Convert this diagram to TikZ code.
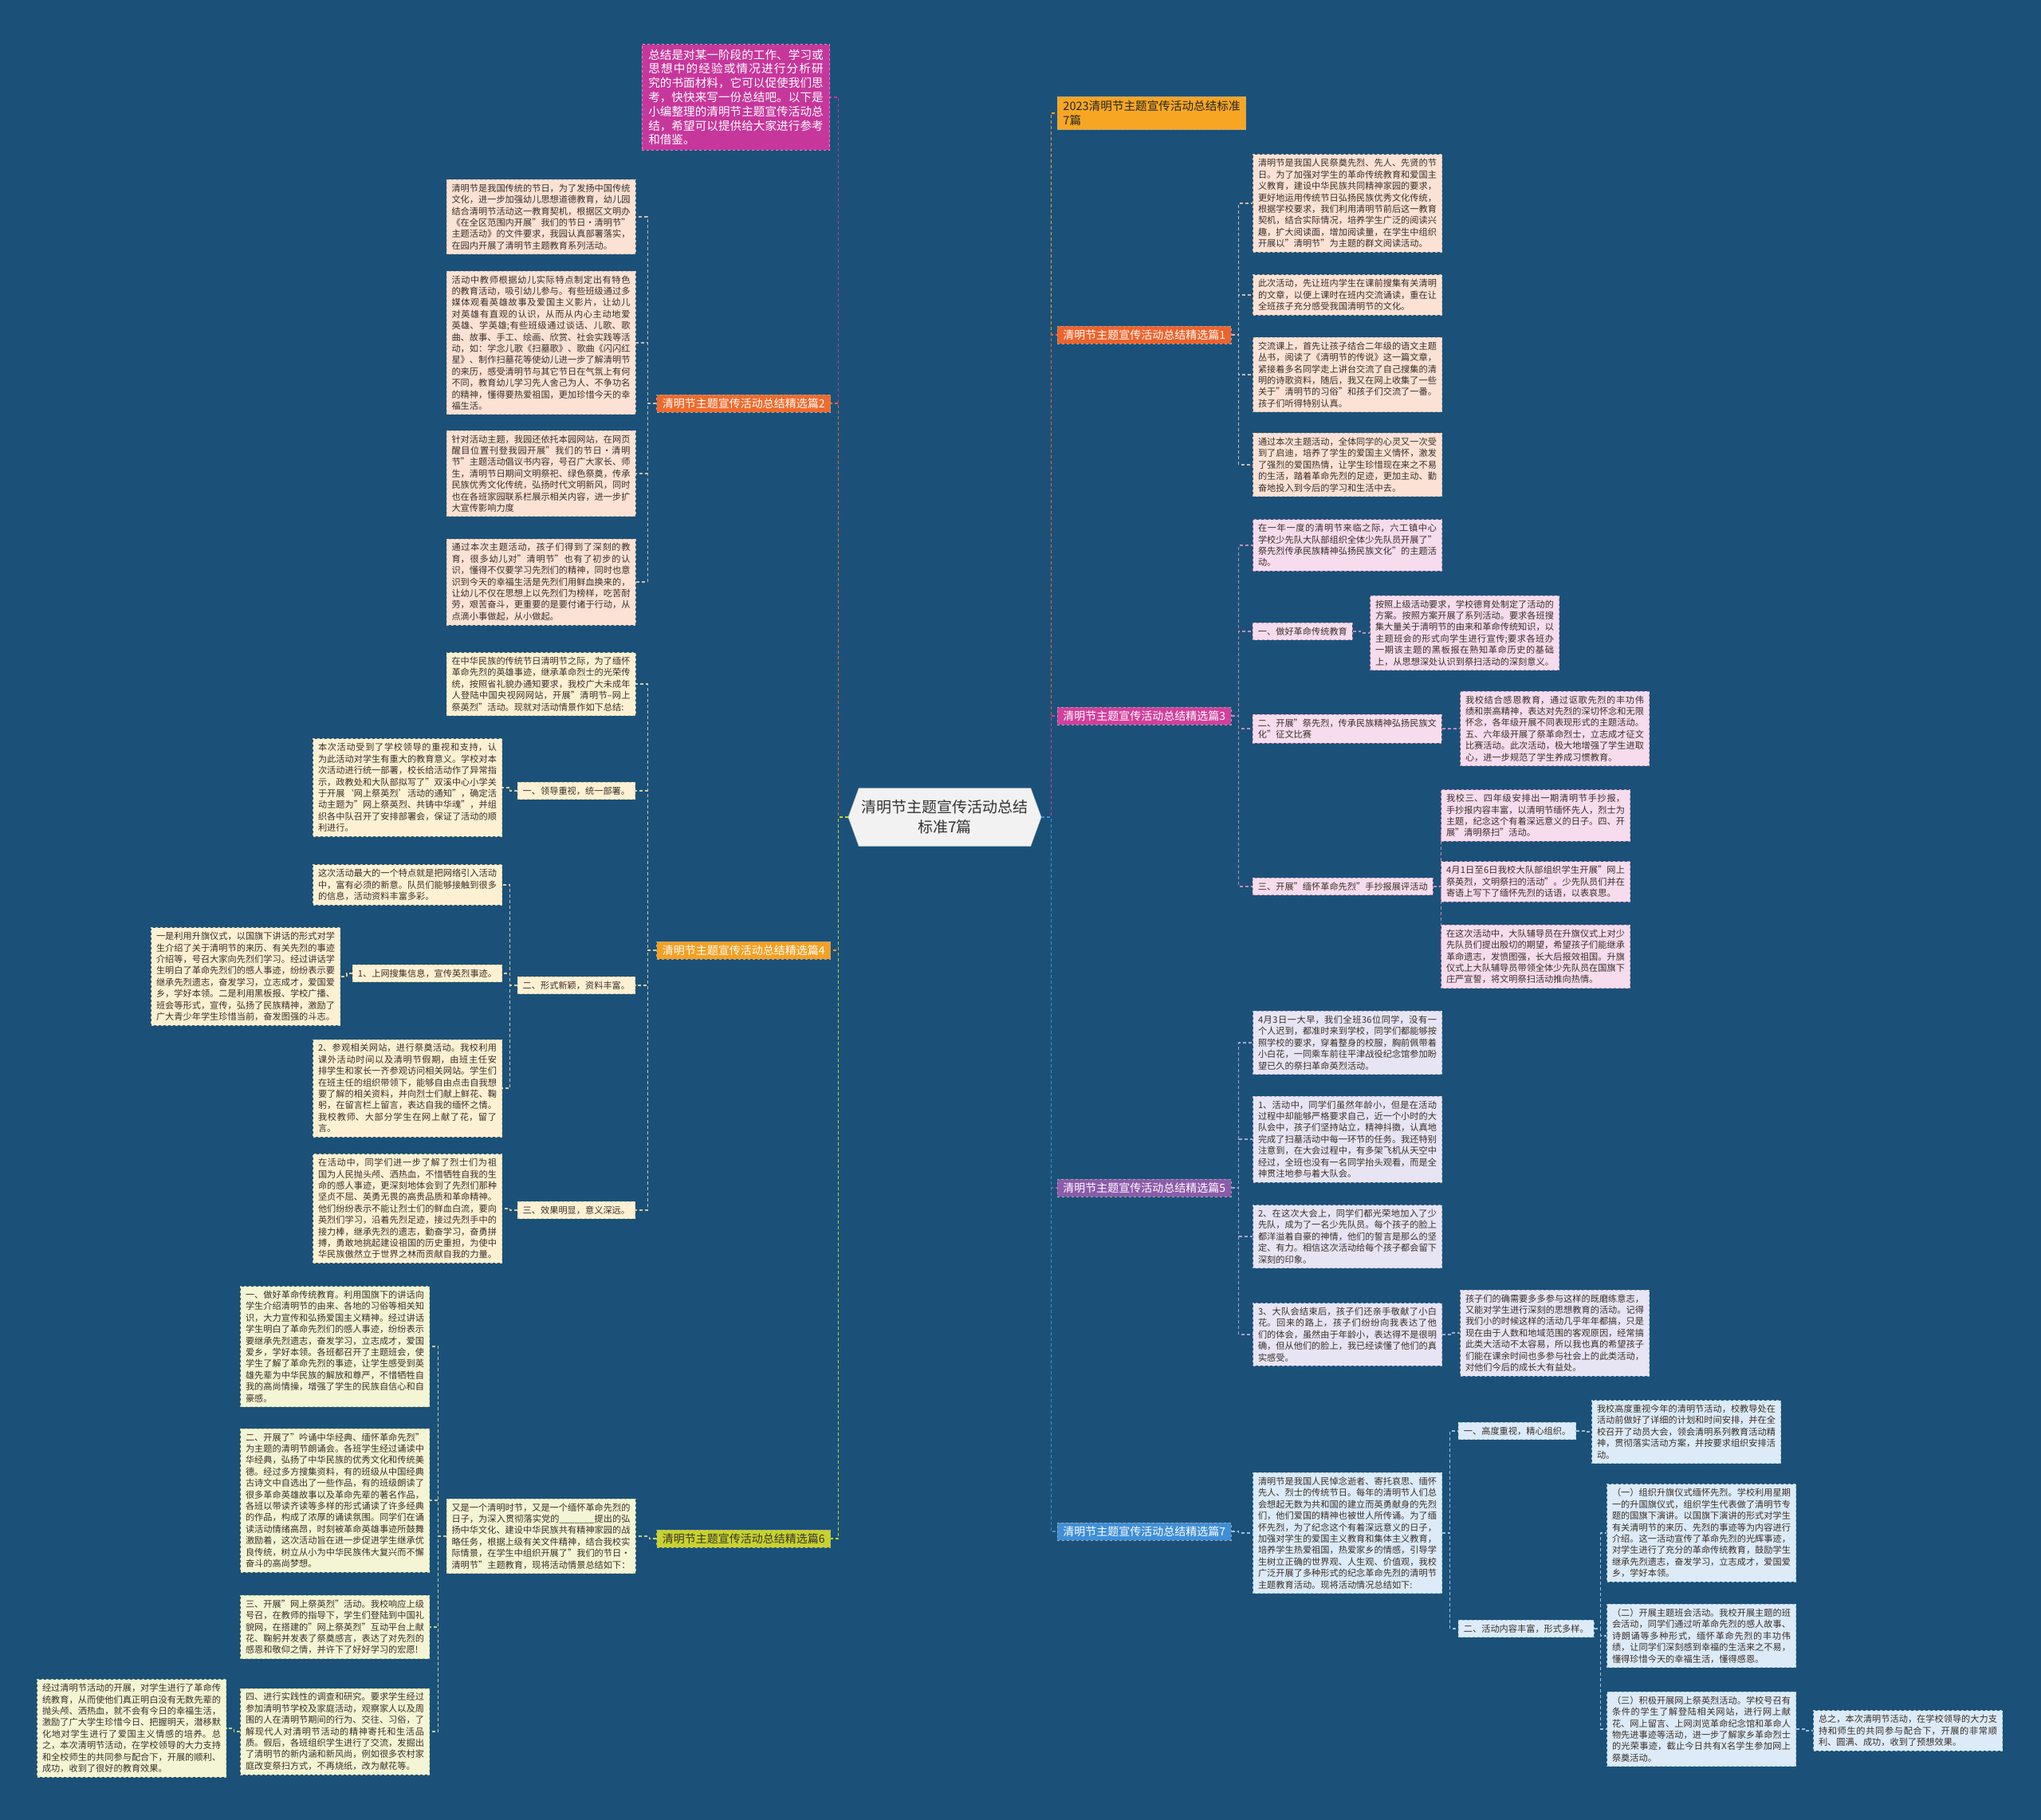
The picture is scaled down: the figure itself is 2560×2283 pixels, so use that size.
\documentclass[tikz,border=0pt]{standalone}
\usepackage{fontspec}
\setmainfont{Noto Sans CJK SC}
\XeTeXlinebreaklocale "zh"
\XeTeXlinebreakskip=0pt plus 1pt
\usetikzlibrary{shapes.symbols}
\setlength{\parindent}{0pt}
\definecolor{bgblue}{HTML}{1B5179}
\definecolor{cintro}{HTML}{C7379B}
\definecolor{ctitle}{HTML}{F6A623}
\definecolor{cbone}{HTML}{F0622A}
\definecolor{cbtwo}{HTML}{F06A2C}
\definecolor{cbthree}{HTML}{D23F9C}
\definecolor{cbfour}{HTML}{F4A023}
\definecolor{cbfive}{HTML}{8C5BAA}
\definecolor{cbsix}{HTML}{C9D22C}
\definecolor{cbseven}{HTML}{3F8ED6}
\definecolor{fpeach}{HTML}{FBE2D4}
\definecolor{lpeach}{HTML}{D7B9A8}
\definecolor{fcream}{HTML}{FEF1D3}
\definecolor{lcream}{HTML}{DCCB9F}
\definecolor{flime}{HTML}{F4F5D4}
\definecolor{llime}{HTML}{C7CC8F}
\definecolor{fpink}{HTML}{F6DCEC}
\definecolor{lpink}{HTML}{C58BB4}
\definecolor{flilac}{HTML}{E7E5F3}
\definecolor{llilac}{HTML}{ABA6CF}
\definecolor{fsky}{HTML}{DCEBF7}
\definecolor{lsky}{HTML}{9DC2E2}
\definecolor{cardtext}{HTML}{3A2E2A}
\newcommand\cardfont{\fontsize{11.2pt}{14.4pt}\selectfont}
\tikzset{
 card/.style={font=\cardfont,text width=224pt,align=justify,inner xsep=6.5pt,inner ysep=5.5pt,
   dashed,line width=0.8pt,text=cardtext},
 subbox/.style={font=\cardfont,align=left,inner xsep=6.5pt,inner ysep=5.5pt,
   dashed,line width=0.8pt,text=cardtext},
 peachcard/.style={card,fill=fpeach,draw=lpeach},
 creamcard/.style={card,fill=fcream,draw=lcream},
 limecard/.style={card,fill=flime,draw=llime},
 pinkcard/.style={card,fill=fpink,draw=lpink},
 lilaccard/.style={card,fill=flilac,draw=llilac},
 skycard/.style={card,fill=fsky,draw=lsky},
 branchbox/.style={font=\fontsize{14pt}{18pt}\selectfont,align=left,inner xsep=7pt,inner ysep=4.5pt,
   dashed,line width=0.8pt,text=white,draw=black!35},
 link/.style={dashed,dash pattern=on 4pt off 3pt,line width=1.4pt},
 twig/.style={dashed,dash pattern=on 4pt off 3pt,line width=1.1pt}
}

\begin{document}
\begin{tikzpicture}[x=1pt,y=-1pt]
 \fill[bgblue] (0,0) rectangle (2560,2283);
 \useasboundingbox (0,0) rectangle (2560,2283);
 % centre
 \node[shape=signal,signal to=west and east,signal pointer angle=140,fill=white!95!black,draw=black!30,
   minimum width=241pt,minimum height=73pt,align=center,text=black!80,
   font=\fontsize{19pt}{25pt}\selectfont] (hub) at (1185,1025) {清明节主题宣传活动总结\\标准7篇};
 % left side
 \node[fill=cintro,draw=cintro!60!white,dashed,line width=0.8pt,text=white,text width=219.5pt,align=justify,
   inner xsep=8pt,inner ysep=6pt,font=\fontsize{14.6pt}{17.8pt}\selectfont] (intro) at (923,122)
   {总结是对某一阶段的工作、学习或思想中的经验或情况进行分析研究的书面材料，它可以促使我们思考，快快来写一份总结吧。以下是小编整理的清明节主题宣传活动总结，希望可以提供给大家进行参考和借鉴。};
 \node[branchbox,fill=cbtwo,anchor=east] (b2) at (1042,506) {清明节主题宣传活动总结精选篇2};
 \node[peachcard] (p2a) at (678.5,272) {清明节是我国传统的节日，为了发扬中国传统文化，进一步加强幼儿思想道德教育，幼儿园结合清明节活动这一教育契机，根据区文明办《在全区范围内开展"我们的节日·清明节"主题活动》的文件要求，我园认真部署落实，在园内开展了清明节主题教育系列活动。};
 \node[peachcard] (p2b) at (678.5,430) {活动中教师根据幼儿实际特点制定出有特色的教育活动，吸引幼儿参与。有些班级通过多媒体观看英雄故事及爱国主义影片，让幼儿对英雄有直观的认识，从而从内心主动地爱英雄、学英雄;有些班级通过谈话、儿歌、歌曲、故事、手工、绘画、欣赏、社会实践等活动，如：学念儿歌《扫墓歌》、歌曲《闪闪红星》、制作扫墓花等使幼儿进一步了解清明节的来历，感受清明节与其它节日在气氛上有何不同，教育幼儿学习先人舍己为人、不争功名的精神，懂得要热爱祖国，更加珍惜今天的幸福生活。};
 \node[peachcard] (p2c) at (678.5,594) {针对活动主题，我园还依托本园网站，在网页醒目位置刊登我园开展"我们的节日·清明节"主题活动倡议书内容，号召广大家长、师生，清明节日期间文明祭祀、绿色祭奠，传承民族优秀文化传统，弘扬时代文明新风，同时也在各班家园联系栏展示相关内容，进一步扩大宣传影响力度};
 \node[peachcard] (p2d) at (678.5,730) {通过本次主题活动，孩子们得到了深刻的教育，很多幼儿对"清明节"也有了初步的认识，懂得不仅要学习先烈们的精神，同时也意识到今天的幸福生活是先烈们用鲜血换来的，让幼儿不仅在思想上以先烈们为榜样，吃苦耐劳，艰苦奋斗，更重要的是要付诸于行动，从点滴小事做起，从小做起。};
 \node[branchbox,fill=cbfour,anchor=east] (b4) at (1042,1192) {清明节主题宣传活动总结精选篇4};
 \node[creamcard] (p4i) at (678.5,858) {在中华民族的传统节日清明节之际，为了缅怀革命先烈的英雄事迹，继承革命烈士的光荣传统，按照省礼貌办通知要求，我校广大未成年人登陆中国央视网网站，开展"清明节–网上祭英烈"活动。现就对活动情景作如下总结:};
 \node[subbox,fill=fcream,draw=lcream,anchor=east] (l41) at (797,992) {一、领导重视，统一部署。};
 \node[creamcard] (p41) at (511,988) {本次活动受到了学校领导的重视和支持，认为此活动对学生有重大的教育意义。学校对本次活动进行统一部署，校长给活动作了异常指示，政教处和大队部拟写了"双溪中心小学关于开展‘网上祭英烈’活动的通知"，确定活动主题为"网上祭英烈、共铸中华魂"，并组织各中队召开了安排部署会，保证了活动的顺利进行。};
 \node[subbox,fill=fcream,draw=lcream,anchor=east] (l42) at (797,1236) {二、形式新颖，资料丰富。};
 \node[creamcard] (p42a) at (511,1110) {这次活动最大的一个特点就是把网络引入活动中，富有必须的新意。队员们能够接触到很多的信息，活动资料丰富多彩。};
 \node[subbox,fill=fcream,draw=lcream,anchor=east] (l421) at (630,1221) {1、上网搜集信息，宣传英烈事迹。};
 \node[creamcard] (p421) at (308,1225) {一是利用升旗仪式，以国旗下讲话的形式对学生介绍了关于清明节的来历、有关先烈的事迹介绍等，号召大家向先烈们学习。经过讲话学生明白了革命先烈们的感人事迹，纷纷表示要继承先烈遗志，奋发学习，立志成才，爱国爱乡，学好本领。二是利用黑板报、学校广播、班会等形式，宣传，弘扬了民族精神，激励了广大青少年学生珍惜当前，奋发图强的斗志。};
 \node[creamcard] (p422) at (511,1365) {2、参观相关网站，进行祭奠活动。我校利用课外活动时间以及清明节假期，由班主任安排学生和家长一齐参观访问相关网站。学生们在班主任的组织带领下，能够自由点击自我想要了解的相关资料，并向烈士们献上鲜花、鞠躬，在留言栏上留言，表达自我的缅怀之情。我校教师、大部分学生在网上献了花，留了言。};
 \node[subbox,fill=fcream,draw=lcream,anchor=east] (l43) at (797,1518) {三、效果明显，意义深远。};
 \node[creamcard] (p43) at (511,1516) {在活动中，同学们进一步了解了烈士们为祖国为人民抛头颅、洒热血，不惜牺牲自我的生命的感人事迹，更深刻地体会到了先烈们那种坚贞不屈、英勇无畏的高贵品质和革命精神。他们纷纷表示不能让烈士们的鲜血白流，要向英烈们学习，沿着先烈足迹，接过先烈手中的接力棒，继承先烈的遗志，勤奋学习，奋勇拼搏，勇敢地挑起建设祖国的历史重担，为使中华民族傲然立于世界之林而贡献自我的力量。};
 \node[branchbox,fill=cbsix,text=black!80,anchor=east] (b6) at (1042,1930) {清明节主题宣传活动总结精选篇6};
 \node[limecard] (p6i) at (678.5,1927) {又是一个清明时节，又是一个缅怀革命先烈的日子，为深入贯彻落实党的\_\_\_\_\_\_\_提出的弘扬中华文化、建设中华民族共有精神家园的战略任务，根据上级有关文件精神，结合我校实际情景，在学生中组织开展了"我们的节日·清明节"主题教育，现将活动情景总结如下：};
 \node[limecard] (p61) at (420,1689) {一、做好革命传统教育。利用国旗下的讲话向学生介绍清明节的由来、各地的习俗等相关知识，大力宣传和弘扬爱国主义精神。经过讲话学生明白了革命先烈们的感人事迹，纷纷表示要继承先烈遗志，奋发学习，立志成才，爱国爱乡，学好本领。各班都召开了主题班会，使学生了解了革命先烈的事迹，让学生感受到英雄先辈为中华民族的解放和尊严，不惜牺牲自我的高尚情操，增强了学生的民族自信心和自豪感。};
 \node[limecard] (p62) at (420,1882) {二、开展了"吟诵中华经典、缅怀革命先烈"为主题的清明节朗诵会。各班学生经过诵读中华经典，弘扬了中华民族的优秀文化和传统美德。经过多方搜集资料，有的班级从中国经典古诗文中自选出了一些作品，有的班级朗读了很多革命英雄故事以及革命先辈的著名作品，各班以带读齐读等多样的形式诵读了许多经典的作品，构成了浓厚的诵读氛围。同学们在诵读活动情绪高昂，时刻被革命英雄事迹所鼓舞激励着，这次活动旨在进一步促进学生继承优良传统，树立从小为中华民族伟大复兴而不懈奋斗的高尚梦想。};
 \node[limecard] (p63) at (420,2041) {三、开展"网上祭英烈"活动。我校响应上级号召，在教师的指导下，学生们登陆到中国礼貌网，在搭建的"网上祭英烈"互动平台上献花、鞠躬并发表了祭奠感言，表达了对先烈的感恩和敬仰之情，并许下了好好学习的宏愿!};
 \node[limecard] (p64) at (420,2172) {四、进行实践性的调查和研究。要求学生经过参加清明节学校及家庭活动，观察家人以及周围的人在清明节期间的行为、交往、习俗，了解现代人对清明节活动的精神寄托和生活品质。假后，各班组织学生进行了交流，发掘出了清明节的新内涵和新风尚，例如很多农村家庭改变祭扫方式，不再烧纸，改为献花等。};
 \node[limecard] (p6z) at (165,2168) {经过清明节活动的开展，对学生进行了革命传统教育，从而使他们真正明白没有无数先辈的抛头颅、洒热血，就不会有今日的幸福生活，激励了广大学生珍惜今日、把握明天，潜移默化地对学生进行了爱国主义情感的培养。总之，本次清明节活动，在学校领导的大力支持和全校师生的共同参与配合下，开展的顺利、成功，收到了很好的教育效果。};
 % right side
 \node[branchbox,fill=ctitle,text=black!85,anchor=west,font=\fontsize{14.6pt}{18.5pt}\selectfont] (title) at (1326,142) {2023清明节主题宣传活动总结标准\\7篇};
 \node[branchbox,fill=cbone,anchor=west] (b1) at (1326,420) {清明节主题宣传活动总结精选篇1};
 \node[peachcard] (q1a) at (1690,255) {清明节是我国人民祭奠先烈、先人、先贤的节日。为了加强对学生的革命传统教育和爱国主义教育，建设中华民族共同精神家园的要求，更好地运用传统节日弘扬民族优秀文化传统，根据学校要求，我们利用清明节前后这一教育契机，结合实际情况，培养学生广泛的阅读兴趣，扩大阅读面，增加阅读量，在学生中组织开展以"清明节"为主题的群文阅读活动。};
 \node[peachcard] (q1b) at (1690,370) {此次活动，先让班内学生在课前搜集有关清明的文章，以便上课时在班内交流诵读，重在让全班孩子充分感受我国清明节的文化。};
 \node[peachcard] (q1c) at (1690,470) {交流课上，首先让孩子结合二年级的语文主题丛书，阅读了《清明节的传说》这一篇文章，紧接着多名同学走上讲台交流了自己搜集的清明的诗歌资料，随后，我又在网上收集了一些关于"清明节的习俗"和孩子们交流了一番。孩子们听得特别认真。};
 \node[peachcard] (q1d) at (1690,583) {通过本次主题活动，全体同学的心灵又一次受到了启迪，培养了学生的爱国主义情怀，激发了强烈的爱国热情，让学生珍惜现在来之不易的生活，踏着革命先烈的足迹，更加主动、勤奋地投入到今后的学习和生活中去。};
 \node[branchbox,fill=cbthree,anchor=west] (b3) at (1326,898) {清明节主题宣传活动总结精选篇3};
 \node[pinkcard] (q3i) at (1690,684) {在一年一度的清明节来临之际，六工镇中心学校少先队大队部组织全体少先队员开展了"祭先烈传承民族精神弘扬民族文化"的主题活动。};
 \node[subbox,fill=fpink,draw=lpink,anchor=west] (l31) at (1571,792) {一、做好革命传统教育};
 \node[pinkcard] (q31) at (1837,794) {按照上级活动要求，学校德育处制定了活动的方案。按照方案开展了系列活动。要求各班搜集大量关于清明节的由来和革命传统知识，以主题班会的形式向学生进行宣传;要求各班办一期该主题的黑板报在熟知革命历史的基础上，从思想深处认识到祭扫活动的深刻意义。};
 \node[pinkcard,align=left,anchor=west] (l32) at (1571,914) {二、开展"祭先烈，传承民族精神弘扬民族文化"征文比赛};
 \node[pinkcard] (q32) at (1950,914) {我校结合感恩教育，通过讴歌先烈的丰功伟绩和崇高精神，表达对先烈的深切怀念和无限怀念，各年级开展不同表现形式的主题活动。五、六年级开展了祭革命烈士，立志成才征文比赛活动。此次活动，极大地增强了学生进取心，进一步规范了学生养成习惯教育。};
 \node[subbox,fill=fpink,draw=lpink,anchor=west] (l33) at (1571,1112) {三、开展"缅怀革命先烈"手抄报展评活动};
 \node[pinkcard] (q3a) at (1926,1023) {我校三、四年级安排出一期清明节手抄报，手抄报内容丰富，以清明节缅怀先人，烈士为主题，纪念这个有着深远意义的日子。四、开展"清明祭扫"活动。};
 \node[pinkcard] (q3b) at (1926,1106) {4月1日至6日我校大队部组织学生开展"网上祭英烈，文明祭扫的活动"。少先队员们并在寄语上写下了缅怀先烈的话语，以表哀思。};
 \node[pinkcard] (q3c) at (1926,1200) {在这次活动中，大队辅导员在升旗仪式上对少先队员们提出殷切的期望，希望孩子们能继承革命遗志，发愤图强，长大后报效祖国。升旗仪式上大队辅导员带领全体少先队员在国旗下庄严宣誓，将文明祭扫活动推向热情。};
 \node[branchbox,fill=cbfive,anchor=west] (b5) at (1326,1490) {清明节主题宣传活动总结精选篇5};
 \node[lilaccard] (q5a) at (1690,1308) {4月3日一大早，我们全班36位同学，没有一个人迟到，都准时来到学校，同学们都能够按照学校的要求，穿着整身的校服，胸前佩带着小白花，一同乘车前往平津战役纪念馆参加盼望已久的祭扫革命英烈活动。};
 \node[lilaccard] (q5b) at (1690,1429) {1、活动中，同学们虽然年龄小，但是在活动过程中却能够严格要求自己，近一个小时的大队会中，孩子们坚持站立，精神抖擞，认真地完成了扫墓活动中每一环节的任务。我还特别注意到，在大会过程中，有多架飞机从天空中经过，全班也没有一名同学抬头观看，而是全神贯注地参与着大队会。};
 \node[lilaccard] (q5c) at (1690,1551) {2、在这次大会上，同学们都光荣地加入了少先队，成为了一名少先队员。每个孩子的脸上都洋溢着自豪的神情，他们的誓言是那么的坚定、有力。相信这次活动给每个孩子都会留下深刻的印象。};
 \node[lilaccard] (q5d) at (1690,1674) {3、大队会结束后，孩子们还亲手敬献了小白花。回来的路上，孩子们纷纷向我表达了他们的体会，虽然由于年龄小，表达得不是很明确，但从他们的脸上，我已经读懂了他们的真实感受。};
 \node[lilaccard] (q5e) at (1950,1672) {孩子们的确需要多多参与这样的既磨练意志，又能对学生进行深刻的思想教育的活动。记得我们小的时候这样的活动几乎年年都搞，只是现在由于人数和地域范围的客观原因，经常搞此类大活动不太容易，所以我也真的希望孩子们能在课余时间也多参与社会上的此类活动，对他们今后的成长大有益处。};
 \node[branchbox,fill=cbseven,anchor=west] (b7) at (1326,1921) {清明节主题宣传活动总结精选篇7};
 \node[skycard] (q7i) at (1690,1923) {清明节是我国人民悼念逝者、寄托哀思、缅怀先人、烈士的传统节日。每年的清明节人们总会想起无数为共和国的建立而英勇献身的先烈们，他们爱国的精神也被世人所传诵。为了缅怀先烈，为了纪念这个有着深远意义的日子，加强对学生的爱国主义教育和集体主义教育，培养学生热爱祖国，热爱家乡的情感，引导学生树立正确的世界观、人生观、价值观，我校广泛开展了多种形式的纪念革命先烈的清明节主题教育活动。现将活动情况总结如下:};
 \node[subbox,fill=fsky,draw=lsky,anchor=west] (l71) at (1829,1795) {一、高度重视，精心组织。};
 \node[skycard] (q71) at (2115,1796) {我校高度重视今年的清明节活动，校教导处在活动前做好了详细的计划和时间安排，并在全校召开了动员大会，领会清明系列教育活动精神，贯彻落实活动方案，并按要求组织安排活动。};
 \node[subbox,fill=fsky,draw=lsky,anchor=west] (l72) at (1829,2043) {二、活动内容丰富，形式多样。};
 \node[skycard] (q72a) at (2134,1923) {（一）组织升旗仪式缅怀先烈。学校利用星期一的升国旗仪式，组织学生代表做了清明节专题的国旗下演讲。以国旗下演讲的形式对学生有关清明节的来历、先烈的事迹等为内容进行介绍。这一活动宣传了革命先烈的光辉事迹，对学生进行了充分的革命传统教育，鼓励学生继承先烈遗志，奋发学习，立志成才，爱国爱乡，学好本领。};
 \node[skycard] (q72b) at (2134,2052) {（二）开展主题班会活动。我校开展主题的班会活动，同学们通过听革命先烈的感人故事、诗朗诵等多种形式，缅怀革命先烈的丰功伟绩，让同学们深刻感到幸福的生活来之不易，懂得珍惜今天的幸福生活，懂得感恩。};
 \node[skycard] (q72c) at (2134,2169) {（三）积极开展网上祭英烈活动。学校号召有条件的学生了解登陆相关网站，进行网上献花、网上留言、上网浏览革命纪念馆和革命人物先进事迹等活动，进一步了解家乡革命烈士的光荣事迹，截止今日共有X名学生参加网上祭奠活动。};
 \node[skycard] (q7z) at (2393,2171) {总之，本次清明节活动，在学校领导的大力支持和师生的共同参与配合下，开展的非常顺利、圆满、成功，收到了预想效果。};
 % centre to branches
 \draw[link,cintro] (hub.west) -- ++(-12,0) |- (intro.east);
 \draw[link,cbtwo] (hub.west) -- ++(-12,0) |- (b2.east);
 \draw[link,cbfour] (hub.west) -- ++(-12,0) |- (b4.east);
 \draw[link,cbsix] (hub.west) -- ++(-12,0) |- (b6.east);
 \draw[link,ctitle] (hub.east) -- ++(12,0) |- (title.west);
 \draw[link,cbone] (hub.east) -- ++(12,0) |- (b1.west);
 \draw[link,cbthree] (hub.east) -- ++(12,0) |- (b3.west);
 \draw[link,cbfive] (hub.east) -- ++(12,0) |- (b5.west);
 \draw[link,cbseven] (hub.east) -- ++(12,0) |- (b7.west);
 % branch 2
 \draw[twig,lpeach] (b2.west) -- ++(-11,0) |- (p2a.east);
 \draw[twig,lpeach] (b2.west) -- ++(-11,0) |- (p2b.east);
 \draw[twig,lpeach] (b2.west) -- ++(-11,0) |- (p2c.east);
 \draw[twig,lpeach] (b2.west) -- ++(-11,0) |- (p2d.east);
 % branch 4
 \draw[twig,lcream] (b4.west) -- ++(-11,0) |- (p4i.east);
 \draw[twig,lcream] (b4.west) -- ++(-11,0) |- (l41.east);
 \draw[twig,lcream] (b4.west) -- ++(-11,0) |- (l42.east);
 \draw[twig,lcream] (b4.west) -- ++(-11,0) |- (l43.east);
 \draw[twig,lcream] (l41.west) -- ++(-9,0) |- (p41.east);
 \draw[twig,lcream] (l42.west) -- ++(-9,0) |- (p42a.east);
 \draw[twig,lcream] (l42.west) -- ++(-9,0) |- (l421.east);
 \draw[twig,lcream] (l42.west) -- ++(-9,0) |- (p422.east);
 \draw[twig,lcream] (l421.west) -- ++(-7,0) |- (p421.east);
 \draw[twig,lcream] (l43.west) -- ++(-9,0) |- (p43.east);
 % branch 6
 \draw[twig,llime] (b6.west) -- ++(-9,0) |- (p6i.east);
 \draw[twig,llime] (p6i.west) -- ++(-10,0) |- (p61.east);
 \draw[twig,llime] (p6i.west) -- ++(-10,0) |- (p62.east);
 \draw[twig,llime] (p6i.west) -- ++(-10,0) |- (p63.east);
 \draw[twig,llime] (p6i.west) -- ++(-10,0) |- (p64.east);
 \draw[twig,llime] (p64.west) -- ++(-8,0) |- (p6z.east);
 % branch 1
 \draw[twig,lpeach] (b1.east) -- ++(9,0) |- (q1a.west);
 \draw[twig,lpeach] (b1.east) -- ++(9,0) |- (q1b.west);
 \draw[twig,lpeach] (b1.east) -- ++(9,0) |- (q1c.west);
 \draw[twig,lpeach] (b1.east) -- ++(9,0) |- (q1d.west);
 % branch 3
 \draw[twig,lpink] (b3.east) -- ++(9,0) |- (q3i.west);
 \draw[twig,lpink] (b3.east) -- ++(9,0) |- (l31.west);
 \draw[twig,lpink] (b3.east) -- ++(9,0) |- (l32.west);
 \draw[twig,lpink] (b3.east) -- ++(9,0) |- (l33.west);
 \draw[twig,lpink] (l31.east) -- ++(10,0) |- (q31.west);
 \draw[twig,lpink] (l32.east) -- ++(10,0) |- (q32.west);
 \draw[twig,lpink] (l33.east) -- ++(10,0) |- (q3a.west);
 \draw[twig,lpink] (l33.east) -- ++(10,0) |- (q3b.west);
 \draw[twig,lpink] (l33.east) -- ++(10,0) |- (q3c.west);
 % branch 5
 \draw[twig,llilac] (b5.east) -- ++(9,0) |- (q5a.west);
 \draw[twig,llilac] (b5.east) -- ++(9,0) |- (q5b.west);
 \draw[twig,llilac] (b5.east) -- ++(9,0) |- (q5c.west);
 \draw[twig,llilac] (b5.east) -- ++(9,0) |- (q5d.west);
 \draw[twig,llilac] (q5d.east) -- ++(11,0) |- (q5e.west);
 % branch 7
 \draw[twig,lsky] (b7.east) -- ++(9,0) |- (q7i.west);
 \draw[twig,lsky] (q7i.east) -- ++(10,0) |- (l71.west);
 \draw[twig,lsky] (q7i.east) -- ++(10,0) |- (l72.west);
 \draw[twig,lsky] (l71.east) -- ++(10,0) |- (q71.west);
 \draw[twig,lsky] (l72.east) -- ++(8,0) |- (q72a.west);
 \draw[twig,lsky] (l72.east) -- ++(8,0) |- (q72b.west);
 \draw[twig,lsky] (l72.east) -- ++(8,0) |- (q72c.west);
 \draw[twig,lsky] (q72c.east) -- ++(11,0) |- (q7z.west);
\end{tikzpicture}
\end{document}
